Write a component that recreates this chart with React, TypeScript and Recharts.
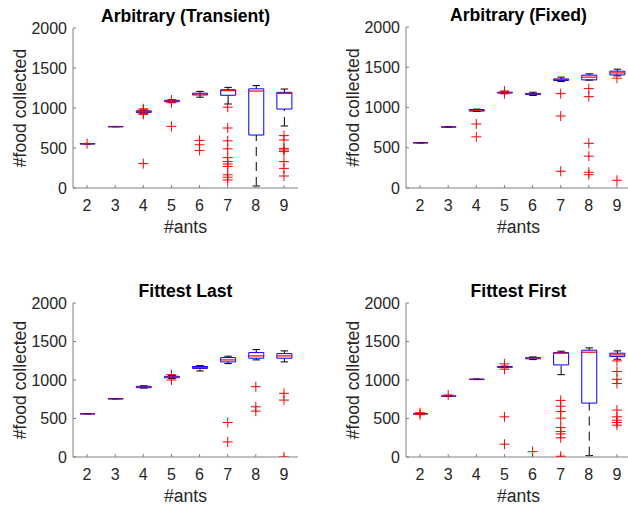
import { ComposedChart, Bar, Scatter, XAxis, YAxis } from "recharts";

// x categories and y ticks shared by all four panels
const ANTS = [2, 3, 4, 5, 6, 7, 8, 9];
const Y_TICKS = [0, 500, 1000, 1500, 2000];

// Arbitrary (Transient)
const transientLo = [550, 765, 935, 1070, 1135, 1050, 25, 775];
const transientQ1 = [550, 765, 945, 1078, 1163, 1159, 662, 987];
const transientMed = [552, 767, 955, 1087, 1175, 1217, 1212, 1183];
const transientQ3 = [555, 768, 965, 1095, 1185, 1228, 1240, 1196];
const transientHi = [558, 770, 975, 1105, 1208, 1258, 1280, 1237];
const transientOut = [
  [555],
  [],
  [990, 975, 935, 920, 305],
  [1100, 1065, 770],
  [595, 540, 470],
  [1010, 750, 590, 490, 380, 330, 300, 270, 165, 135, 100],
  [],
  [655, 600, 495, 475, 455, 330, 245, 150],
];

// Arbitrary (Fixed)
const fixedLo = [560, 757, 950, 1175, 1150, 1322, 1340, 1393];
const fixedQ1 = [561, 757, 955, 1180, 1160, 1335, 1343, 1405];
const fixedMed = [561, 757, 965, 1185, 1168, 1347, 1377, 1430];
const fixedQ3 = [562, 758, 975, 1190, 1175, 1355, 1402, 1451];
const fixedHi = [562, 758, 980, 1195, 1190, 1377, 1418, 1476];
const fixedOut = [
  [],
  [],
  [795, 636],
  [1205, 1170],
  [],
  [1172, 894, 208],
  [1235, 1135, 555, 395, 195, 165],
  [1364, 96],
];

// Fittest Last
const lastLo = [560, 755, 895, 1020, 1117, 1213, 1261, 1235];
const lastQ1 = [560, 755, 900, 1030, 1150, 1235, 1283, 1283];
const lastMed = [561, 756, 909, 1039, 1161, 1261, 1313, 1313];
const lastQ3 = [562, 757, 918, 1048, 1175, 1291, 1356, 1343];
const lastHi = [562, 757, 925, 1058, 1187, 1309, 1395, 1378];
const lastOut = [[], [], [], [1070, 1000], [], [448, 196], [913, 652, 596], [827, 739, 0]];

// Fittest First
const firstLo = [561, 791, 1005, 1160, 1265, 1069, 18, 1270];
const firstQ1 = [561, 791, 1007, 1165, 1275, 1196, 700, 1304];
const firstMed = [561, 791, 1009, 1169, 1283, 1348, 1361, 1326];
const firstQ3 = [562, 792, 1011, 1175, 1290, 1356, 1387, 1348];
const firstHi = [562, 792, 1013, 1180, 1300, 1374, 1417, 1378];
const firstOut = [
  [575, 550],
  [805],
  [],
  [1210, 1140, 522, 166],
  [70],
  [735, 660, 590, 505, 385, 330, 300, 250, 10],
  [],
  [1248, 1110, 1009, 955, 609, 522, 478, 448, 413],
];

const FONT = "'Liberation Sans', Arial, Helvetica, sans-serif";
const TEXT = "#262626";
const AXIS = "#808080";

function BoxShape(props: any) {
  const { x, y, width, height, payload } = props;
  const { lo, q1, med, q3, hi } = payload;
  const top = y;
  const bot = y + height;
  const span = hi - lo;
  // value -> pixel, using the bar's own scaled extent [lo, hi]
  const py = (v: number) => (span === 0 ? top : bot + ((top - bot) * (v - lo)) / span);
  const cx = x + width / 2;
  const cap = width / 4;
  const bTop = py(q3);
  const bBot = py(q1);
  const mY = py(med);
  const flat = bBot - bTop < 1.5;
  return (
    <g>
      <line x1={cx} x2={cx} y1={py(hi)} y2={bTop} stroke="#000" strokeDasharray="9 6" />
      <line x1={cx} x2={cx} y1={py(lo)} y2={bBot} stroke="#000" strokeDasharray="9 6" />
      <line x1={cx - cap} x2={cx + cap} y1={py(hi)} y2={py(hi)} stroke="#000" />
      <line x1={cx - cap} x2={cx + cap} y1={py(lo)} y2={py(lo)} stroke="#000" />
      <line x1={x} x2={x + width} y1={bTop} y2={bTop} stroke="#0000ff" />
      <line x1={x} x2={x + width} y1={bBot} y2={bBot} stroke="#0000ff" />
      <line x1={x} x2={x} y1={bTop} y2={bBot} stroke="#0000ff" />
      <line x1={x + width} x2={x + width} y1={bTop} y2={bBot} stroke="#0000ff" />
      <line x1={x} x2={x + width} y1={mY} y2={mY} stroke="#ff0000" strokeOpacity={flat ? 0.55 : 1} strokeWidth={1.2} />
    </g>
  );
}

function PlusShape(props: any) {
  const { cx, cy } = props;
  return (
    <g>
      <line x1={cx - 5} x2={cx + 5} y1={cy} y2={cy} stroke="#ff0000" />
      <line x1={cx} x2={cx} y1={cy - 5} y2={cy + 5} stroke="#ff0000" />
    </g>
  );
}

type Panel = {
  title: string;
  lo: number[];
  q1: number[];
  med: number[];
  q3: number[];
  hi: number[];
  out: number[][];
  left: number;
  top: number;
  plotTop: number;
  height: number;
};

const panels: Panel[] = [
  { title: "Arbitrary (Transient)", lo: transientLo, q1: transientQ1, med: transientMed, q3: transientQ3, hi: transientHi, out: transientOut, left: 0, top: 0, plotTop: 28, height: 254 },
  { title: "Arbitrary (Fixed)", lo: fixedLo, q1: fixedQ1, med: fixedMed, q3: fixedQ3, hi: fixedHi, out: fixedOut, left: 333, top: 0, plotTop: 27, height: 254 },
  { title: "Fittest Last", lo: lastLo, q1: lastQ1, med: lastMed, q3: lastQ3, hi: lastHi, out: lastOut, left: 0, top: 275, plotTop: 28, height: 248 },
  { title: "Fittest First", lo: firstLo, q1: firstQ1, med: firstMed, q3: firstQ3, hi: firstHi, out: firstOut, left: 333, top: 275, plotTop: 28, height: 248 },
];

function BoxPanel({ p }: { p: Panel }) {
  const rows = ANTS.map((n, i) => ({
    n,
    range: [p.lo[i], p.hi[i]],
    lo: p.lo[i],
    q1: p.q1[i],
    med: p.med[i],
    q3: p.q3[i],
    hi: p.hi[i],
  }));
  const outliers = ANTS.flatMap((n, i) => p.out[i].map((v) => ({ x: n, v })));
  return (
    <div style={{ position: "absolute", left: p.left, top: p.top }}>
      <div
        style={{
          position: "absolute",
          left: 73,
          top: p.plotTop - 22,
          width: 225,
          textAlign: "center",
          fontWeight: "bold",
          fontSize: 17.6,
          lineHeight: "20px",
          color: "#000",
          whiteSpace: "nowrap",
        }}
      >
        {p.title}
      </div>
      <ComposedChart
        width={314}
        height={p.height}
        data={rows}
        margin={{ top: p.plotTop, right: 16, bottom: 0, left: 0 }}
        barSize={15}
      >
        <XAxis
          xAxisId="cat"
          dataKey="n"
          height={66}
          interval={0}
          stroke={AXIS}
          tickSize={-3}
          tickMargin={15}
          tick={{ fill: TEXT, fontSize: 16, fontFamily: FONT }}
          label={{ value: "#ants", position: "insideBottom", offset: 21, fill: TEXT, fontSize: 17.6, fontFamily: FONT }}
        />
        <XAxis xAxisId="top" orientation="top" dataKey="n" height={0} interval={0} stroke={AXIS} tickSize={-3} tick={false} />
        <XAxis xAxisId="num" type="number" dataKey="x" domain={[1.5, 9.5]} allowDataOverflow hide />
        <YAxis
          yAxisId="val"
          domain={[0, 2000]}
          ticks={Y_TICKS}
          allowDataOverflow
          width={73}
          interval={0}
          stroke={AXIS}
          tickSize={-3}
          tickMargin={9}
          tick={{ fill: TEXT, fontSize: 16, fontFamily: FONT }}
          label={{
            value: "#food collected",
            angle: -90,
            position: "insideLeft",
            offset: 20,
            fill: TEXT,
            fontSize: 17.6,
            fontFamily: FONT,
            style: { textAnchor: "middle" },
          }}
        />
        <YAxis
          yAxisId="right"
          orientation="right"
          domain={[0, 2000]}
          ticks={Y_TICKS}
          allowDataOverflow
          width={0}
          interval={0}
          stroke={AXIS}
          tickSize={-3}
          tick={false}
        />
        <Bar xAxisId="cat" yAxisId="val" dataKey="range" shape={BoxShape} isAnimationActive={false} />
        <Scatter xAxisId="num" yAxisId="val" data={outliers} dataKey="v" shape={PlusShape} isAnimationActive={false} />
      </ComposedChart>
    </div>
  );
}

export default function App() {
  return (
    <div
      style={{
        position: "absolute",
        left: 0,
        top: 0,
        width: 628,
        height: 508,
        overflow: "hidden",
        background: "#fff",
        fontFamily: FONT,
      }}
    >
      {panels.map((p) => (
        <BoxPanel key={p.title} p={p} />
      ))}
    </div>
  );
}
